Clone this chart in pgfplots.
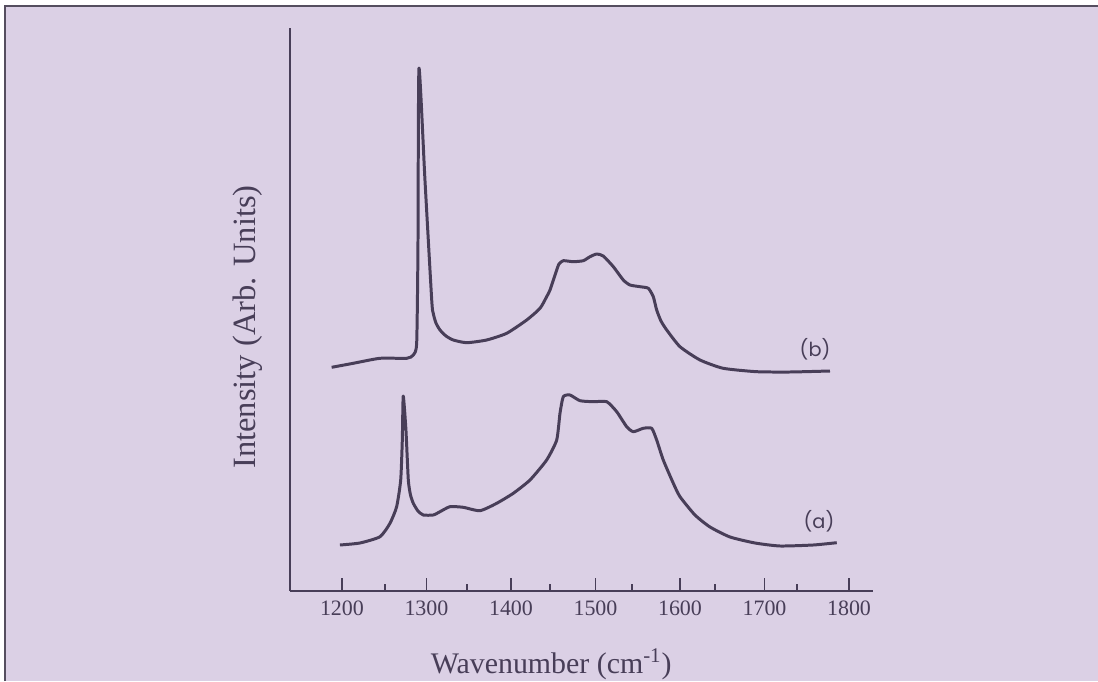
\documentclass[border=0pt]{standalone}
\usepackage{pgfplots}
\pgfplotsset{compat=1.18}
\usepackage{fontspec}
\setmainfont{Liberation Serif}
\newfontfamily\labfont{Poppins}
\definecolor{bgc}{RGB}{219,208,229}
\definecolor{linec}{RGB}{72,62,88}
\definecolor{framec}{RGB}{85,78,95}
\begin{document}
\begin{tikzpicture}
\useasboundingbox (0,0) rectangle (219.6mm,136.2mm);
\fill[white] (0,0) rectangle (219.6mm,136.2mm);
\fill[bgc] (1mm,0) rectangle (219.6mm,135mm);
\draw[framec, line width=0.45mm] (1mm,0) -- (1mm,135mm) -- (219.6mm,135mm);
\begin{axis}[
  at={(58mm,18mm)}, anchor=south west,
  scale only axis, width=116.6mm, height=112.6mm,
  xmin=1138.5, xmax=1828.4, ymin=0, ymax=563,
  axis lines=left,
  axis line style={-, line width=1.1pt, color=linec},
  tick align=inside,
  xtick={1200,1300,1400,1500,1600,1700,1800},
  minor xtick={1251,1348,1446,1543,1641,1738},
  ytick=\empty,
  major tick length=2.6mm, minor tick length=1.4mm,
  every tick/.style={line width=1.1pt, color=linec},
  /pgf/number format/1000 sep={},
  /pgf/number format/assume math mode=true,
  xticklabel style={font=\fontsize{12.5}{14}\selectfont, text=linec, yshift=-0.7mm},
  xlabel={Wavenumber (cm\textsuperscript{-1})},
  xlabel style={font=\fontsize{17}{20}\selectfont, text=linec, at={(axis description cs:0.448,-0.131)}, anchor=center},
  ylabel={Intensity (Arb. Units)},
  ylabel style={font=\fontsize{18.5}{22}\selectfont, text=linec, at={(axis description cs:-0.072,0.469)}, anchor=center, rotate=0},
  clip=false,
]
\addplot[linec, line width=1.7pt, line join=round, smooth, tension=0.35] coordinates {
(1187.8,223.7) (1213.4,227.7) (1245.0,232.7) (1276.6,232.7) (1284.4,236) (1288.4,248)
(1289.9,341) (1291.1,522.7) (1298.2,411) (1306.2,291) (1308.0,277.7) (1311.2,268)
(1316.0,261) (1323.1,255) (1331.7,251) (1347.6,248.3) (1371.2,251) (1394.9,257.7)
(1418.6,271) (1434.4,282.7) (1442.2,294.3) (1446.2,301) (1453.3,319) (1456.8,327)
(1461.9,330.3) (1473.7,329.3) (1485.6,330.3) (1493.5,334.3) (1501.4,337) (1509.2,335)
(1521.1,324.3) (1532.9,311) (1540.8,306) (1552.7,304.3) (1562.5,302.7) (1568.4,294.3)
(1572.4,281) (1577.5,270) (1584.3,261) (1600.0,244.3) (1623.7,231) (1651.2,222.7)
(1690.8,219.3) (1730.2,219) (1777.5,220)
};
\addplot[linec, line width=1.7pt, line join=round, smooth, tension=0.35] coordinates {
(1197.6,46) (1221.3,48) (1245.0,54.3) (1256.8,67.7) (1264.7,84.3) (1269.5,111)
(1271.4,151) (1272.5,195) (1275.7,161) (1278.5,111) (1281.1,96) (1284.4,87.7)
(1289.9,80) (1296.2,76) (1308.0,76) (1316.0,79.3) (1327.8,84.3) (1343.5,83.7)
(1363.3,80.3) (1383.1,87.7) (1402.7,97.7) (1422.5,111) (1442.2,131) (1454.1,151)
(1458.0,177.7) (1461.9,194.3) (1469.8,196) (1481.7,190.3) (1497.4,189.3) (1513.3,189.3)
(1525.1,179.3) (1536.9,164.3) (1544.8,159.3) (1556.6,162.7) (1566.5,162.7) (1572.4,151)
(1580.2,131) (1592.1,107.7) (1600.0,94.3) (1617.7,76) (1635.5,64) (1659.2,54)
(1688.8,48) (1718.3,45) (1757.7,46) (1785.5,48.3)
};
\node[text=linec, font=\labfont\fontsize{11}{13}\selectfont] at (axis cs:1759.8,242) {(b)};
\node[text=linec, font=\labfont\fontsize{11}{13}\selectfont] at (axis cs:1764.5,69.5) {(a)};
\end{axis}
\end{tikzpicture}
\end{document}
